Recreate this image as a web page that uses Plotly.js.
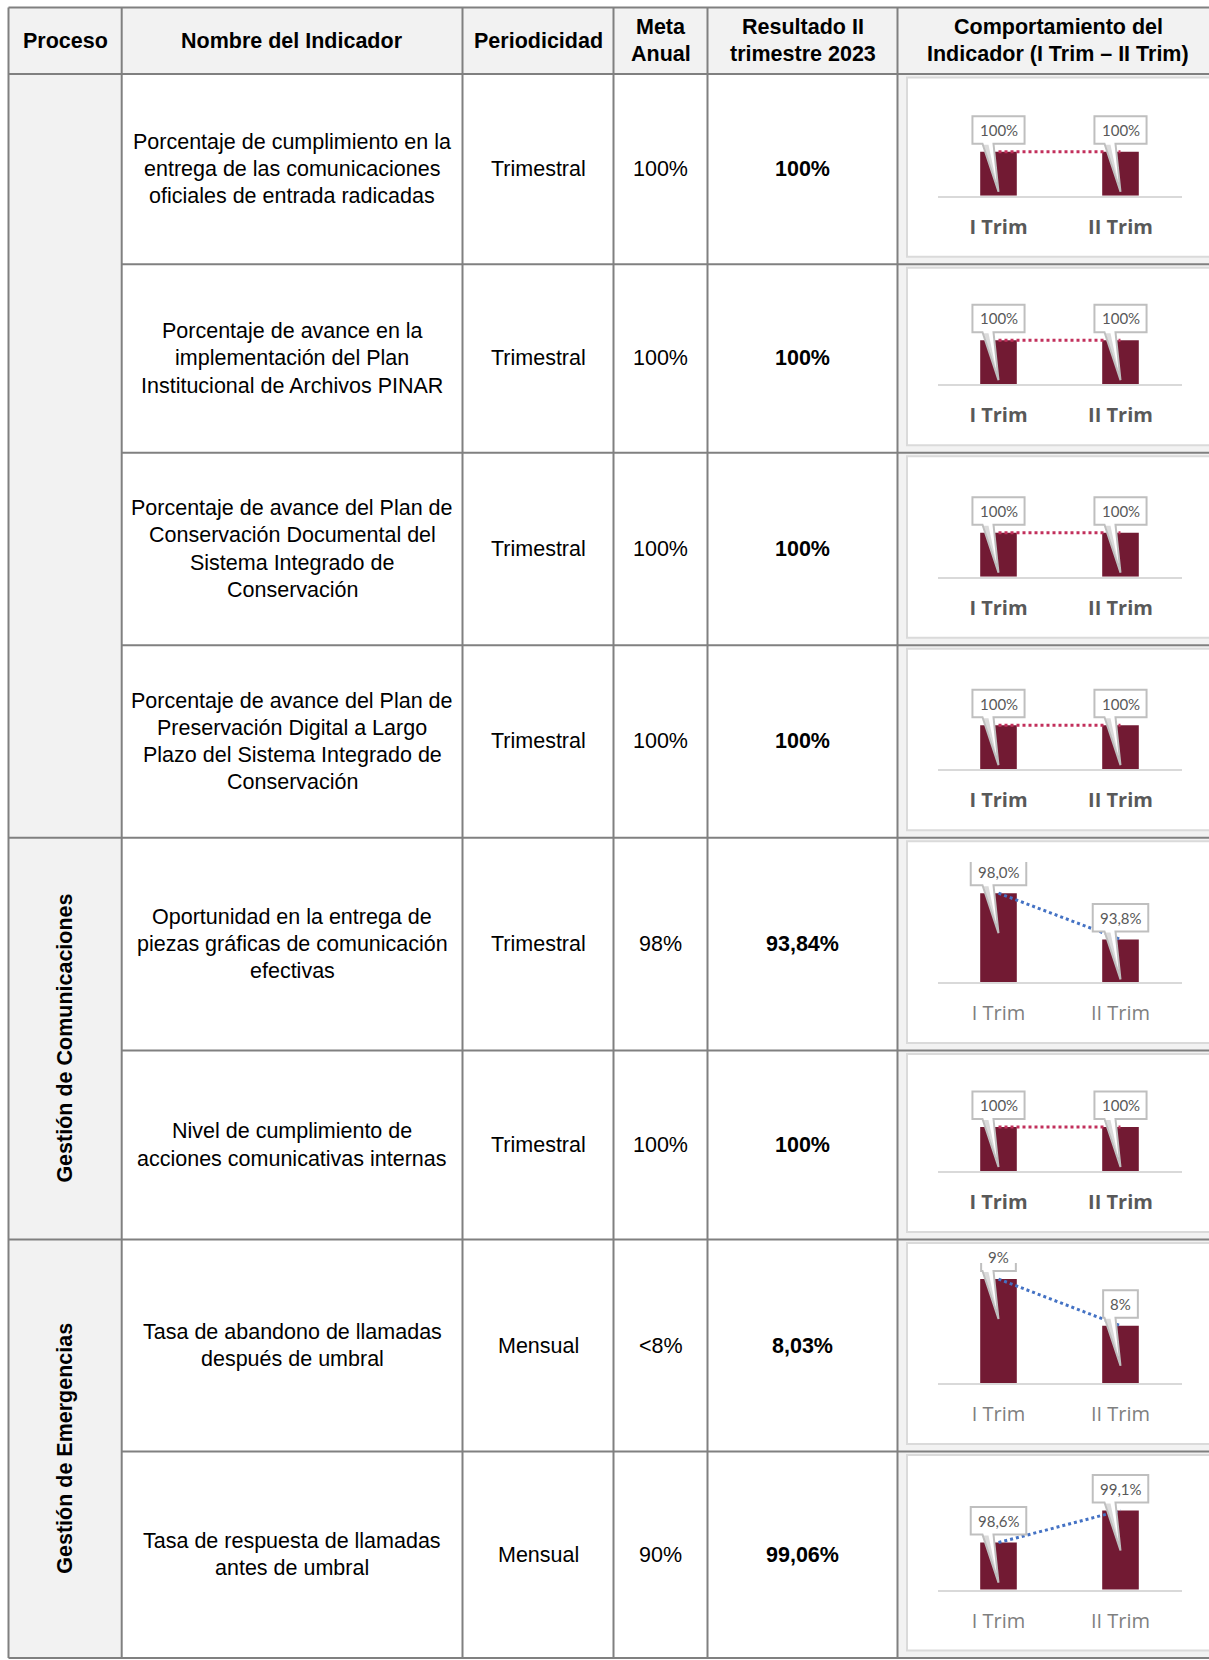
<!DOCTYPE html>
<html>
<head>
<meta charset="utf-8">
<script src="https://cdn.plot.ly/plotly-3.0.1.min.js"></script>
<style>html,body{margin:0;padding:0;background:#fff}</style>
</head>
<body>
<div id="chart" style="width:1209px;height:1660px"></div>
<script>
// ---------------- DATA ----------------
const quarters = ['I Trim', 'II Trim'];
const headers = ['Proceso', 'Nombre del Indicador', 'Periodicidad', 'Meta<br>Anual',
                 'Resultado II<br>trimestre 2023', 'Comportamiento del<br>Indicador (I Trim – II Trim)'];
const procesos = ['', 'Gestión de Comunicaciones', 'Gestión de Emergencias'];
const procesoRowCount = [4, 2, 2];
const indicadores = [
  'Porcentaje de cumplimiento en la<br>entrega de las comunicaciones<br>oficiales de entrada radicadas',
  'Porcentaje de avance en la<br>implementación del Plan<br>Institucional de Archivos PINAR',
  'Porcentaje de avance del Plan de<br>Conservación Documental del<br>Sistema Integrado de<br>Conservación',
  'Porcentaje de avance del Plan de<br>Preservación Digital a Largo<br>Plazo del Sistema Integrado de<br>Conservación',
  'Oportunidad en la entrega de<br>piezas gráficas de comunicación<br>efectivas',
  'Nivel de cumplimiento de<br>acciones comunicativas internas',
  'Tasa de abandono de llamadas<br>después de umbral',
  'Tasa de respuesta de llamadas<br>antes de umbral'
];
const periodicidad = ['Trimestral', 'Trimestral', 'Trimestral', 'Trimestral', 'Trimestral', 'Trimestral', 'Mensual', 'Mensual'];
const metaAnual = ['100%', '100%', '100%', '100%', '98%', '100%', '<8%', '90%'];
const resultado = ['100%', '100%', '100%', '100%', '93,84%', '100%', '8,03%', '99,06%'];
const trimI  = [100, 100, 100, 100, 98.0, 100, 8.87, 98.63];
const trimII = [100, 100, 100, 100, 93.84, 100, 8.03, 99.06];
const labelDecimals = [0, 0, 0, 0, 1, 0, 0, 1];

// ---------------- LAYOUT CONFIG ----------------
const W = 1209, H = 1660;
const px = x => x / W, py = y => 1 - y / H;
const colX = [8.5, 121.7, 462.5, 613.5, 707.5, 897.5];
const tableRight = 1219;
const rowY = [7.5, 74, 264.3, 452.7, 645.2, 837.7, 1050.5, 1239.5, 1451.5, 1658];
const LINE_PITCH = 27.3;
const FONT = "'Liberation Sans', Arial, sans-serif";
const TXT_SIZE = 21.5;
const TICK_FONT = "'Open Sans', sans-serif";
const LABEL_FONT = 'Lato, sans-serif';
const GRID = '#808080';
const GRAYBG = '#f2f2f2';
const BAR = '#721a33';
const styleA = [true, true, true, true, false, true, false, false]; // bold labels + crimson trend
const axisMin = [0, 0, 0, 0, 90, 0, 7, 98];
const pxPerUnit = [0.44, 0.44, 0.44, 0.44, 11.1, 0.44, 55.6, 74.5];
const PH = 120;

const shapes = [], annotations = [], data = [];
const layout = {
  width: W, height: H, autosize: false,
  margin: {l: 0, r: 0, t: 0, b: 0},
  paper_bgcolor: '#ffffff', plot_bgcolor: 'rgba(0,0,0,0)',
  showlegend: false, shapes, annotations
};

function rect(x0, y0, x1, y1, fill, lineColor, lw) {
  shapes.push({type: 'rect', xref: 'paper', yref: 'paper', layer: 'below',
    x0: px(x0), x1: px(x1), y0: py(y0), y1: py(y1),
    fillcolor: fill, line: {color: lineColor || 'rgba(0,0,0,0)', width: lw || 0}});
}
function line(x0, y0, x1, y1) {
  shapes.push({type: 'line', xref: 'paper', yref: 'paper', layer: 'below',
    x0: px(x0), x1: px(x1), y0: py(y0), y1: py(y1), line: {color: GRID, width: 2}});
}
function cellText(text, cx, cy, bold) {
  const lines = text.split('<br>');
  lines.forEach((ln, i) => {
    annotations.push({xref: 'paper', yref: 'paper', showarrow: false,
      x: px(cx), y: py(cy + (i - (lines.length - 1) / 2) * LINE_PITCH),
      xanchor: 'center', yanchor: 'middle',
      text: bold ? '<b>' + ln + '</b>' : ln,
      font: {family: FONT, size: TXT_SIZE, color: '#000000'}});
  });
}

// backgrounds
rect(colX[0], rowY[0], tableRight, rowY[1], GRAYBG);
rect(colX[0], rowY[1], colX[1], rowY[9], GRAYBG);
rect(colX[5], rowY[1], tableRight, rowY[9], GRAYBG);
for (let i = 0; i < indicadores.length; i++) {
  rect(colX[5] + 9.5, rowY[i + 1] + 3.5, tableRight + 10, rowY[i + 2] - 7.5, '#ffffff', '#dadada', 2);
}

// grid lines
const groupStarts = [];
let acc = 0;
procesoRowCount.forEach(n => { groupStarts.push(acc); acc += n; });
line(colX[0], rowY[0], tableRight, rowY[0]);
line(colX[0], rowY[1], tableRight, rowY[1]);
for (let r = 1; r < indicadores.length; r++) {
  const x0 = groupStarts.includes(r) ? colX[0] : colX[1];
  line(x0, rowY[r + 1], tableRight, rowY[r + 1]);
}
line(colX[0], rowY[9], tableRight, rowY[9]);
colX.forEach(x => line(x, rowY[0], x, rowY[9]));

// header texts
const colCenters = colX.map((x, i) => i < colX.length - 1 ? (x + colX[i + 1]) / 2 : (x + tableRight) / 2);
headers.forEach((h, c) => cellText(h, colCenters[c], (rowY[0] + rowY[1]) / 2, true));

// proceso texts
procesos.forEach((p, g) => {
  if (!p) return;
  const r0 = groupStarts[g], r1 = r0 + procesoRowCount[g];
  annotations.push({xref: 'paper', yref: 'paper', showarrow: false,
    x: px(65), y: py((rowY[r0 + 1] + rowY[r1 + 1]) / 2), xanchor: 'center', yanchor: 'middle',
    textangle: -90, text: '<b>' + p + '</b>',
    font: {family: FONT, size: TXT_SIZE, color: '#000000'}});
});

// body texts + mini charts
const ctx = document.createElement('canvas').getContext('2d');
ctx.font = '15px Lato';
const fmt = (v, d) => v.toFixed(d).replace('.', ',') + '%';

indicadores.forEach((name, i) => {
  const cy = (rowY[i + 1] + rowY[i + 2]) / 2;
  cellText(name, colCenters[1], cy, false);
  cellText(periodicidad[i], colCenters[2], cy, false);
  cellText(metaAnual[i], colCenters[3], cy, false);
  cellText(resultado[i], colCenters[4], cy, true);

  const k = i + 1, sfx = k === 1 ? '' : String(k);
  const xa = 'x' + sfx, ya = 'y' + sfx;
  const base = rowY[i + 2] - 68.5;
  const vals = [trimI[i], trimII[i]];
  layout['xaxis' + sfx] = {
    domain: [px(937.5), px(1181.5)], anchor: ya, type: 'category', range: [-0.5, 1.5],
    showline: true, linecolor: '#d9d9d9', linewidth: 2, showgrid: false, zeroline: false,
    ticks: '', ticklabelstandoff: 12, fixedrange: true,
    tickfont: {family: TICK_FONT, size: 20, color: styleA[i] ? '#595959' : '#7f7f7f',
               weight: styleA[i] ? 700 : 400}
  };
  layout['yaxis' + sfx] = {
    domain: [py(base), py(base - PH)], anchor: xa,
    range: [axisMin[i], axisMin[i] + PH / pxPerUnit[i]],
    visible: false, fixedrange: true
  };
  data.push({type: 'bar', x: quarters, y: vals, xaxis: xa, yaxis: ya, width: 0.3,
    marker: {color: BAR, line: {width: 0}}, hoverinfo: 'skip'});
  data.push({type: 'scatter', mode: 'lines', x: quarters, y: vals, xaxis: xa, yaxis: ya,
    line: {color: styleA[i] ? '#c2305c' : '#4472c4', width: 3, dash: 'dot'},
    cliponaxis: false, hoverinfo: 'skip'});

  vals.forEach((v, j) => {
    const label = fmt(v, labelDecimals[i]);
    const tw = ctx.measureText(label).width;
    const hw = (tw + 14) / 2, bot = 8, top = 35.5;
    shapes.push({type: 'path', layer: 'above', xref: xa, yref: ya,
      xsizemode: 'pixel', ysizemode: 'pixel', xanchor: j, yanchor: v,
      path: `M ${-hw},${top} L ${hw},${top} L ${hw},${bot} L -5,${bot} L 0,-40 L -16,${bot} L ${-hw},${bot} Z`,
      fillcolor: '#ffffff', line: {color: '#bfbfbf', width: 2}});
    shapes.push({type: 'path', layer: 'above', xref: xa, yref: ya,
      xsizemode: 'pixel', ysizemode: 'pixel', xanchor: j, yanchor: v,
      path: `M -15,${bot - 1} L -10,${bot - 1} L -0.5,-38 Z`,
      fillcolor: 'rgba(190,190,190,0.55)', line: {width: 0}});
    annotations.push({xref: xa, yref: ya, x: j, y: v, yshift: 21.7, showarrow: false,
      xanchor: 'center', yanchor: 'middle', text: label,
      font: {family: LABEL_FONT, size: 15, color: '#595959'}});
  });
});

Plotly.newPlot('chart', data, layout, {staticPlot: true, displayModeBar: false});
</script>
</body>
</html>
